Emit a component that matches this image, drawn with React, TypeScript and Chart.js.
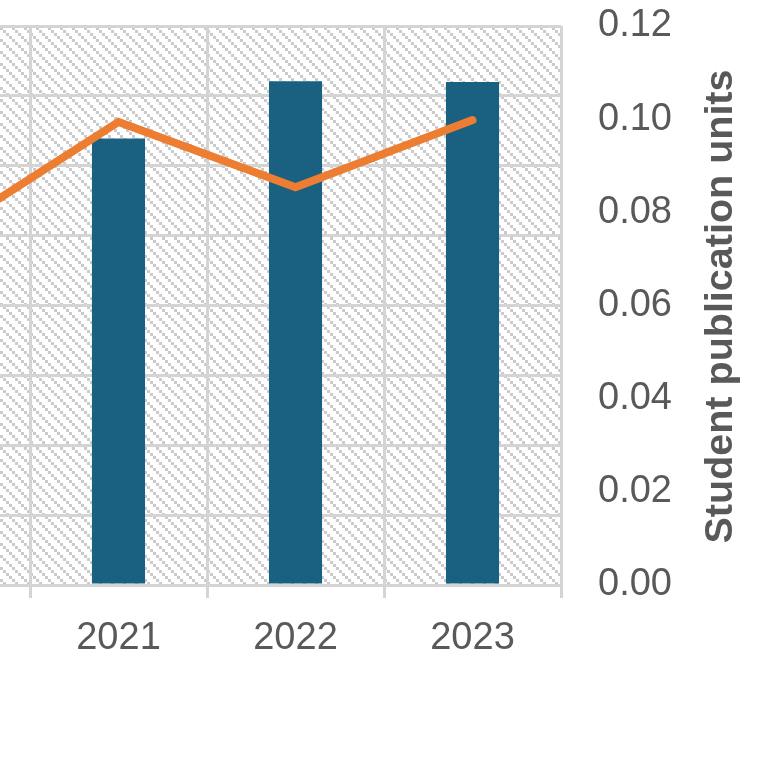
import { useEffect, useRef } from 'react';
import { Chart, registerables } from 'chart.js';

Chart.register(...registerables);

// ---- data ----
const categories = ['2020', '2021', '2022', '2023'];
const barLabel = 'Publications';
const barValues = [6.0, 6.39, 7.21, 7.2];
const lineLabel = 'Student publication units';
const lineValues = [0.075, 0.0994, 0.0854, 0.0998];
const leftAxisMin = 0;
const leftAxisMax = 8;
const leftAxisStep = 1;
const rightAxisMin = 0;
const rightAxisMax = 0.12;
const rightAxisStep = 0.02;
const rightAxisTitle = 'Student publication units';

// ---- styling ----
const OFFSET = 147;
const CANVAS_W = 916;
const CANVAS_H = 758;
const FONT = '"Liberation Sans", Arial, Helvetica, sans-serif';
const TEXT = '#595959';
const GRID = '#d4d4d4';
const BAR = '#1a6080';
const LINE = '#ed7d31';

function makePattern(ctx: CanvasRenderingContext2D) {
  const c = document.createElement('canvas');
  const n = 12;
  c.width = n;
  c.height = n;
  const p = c.getContext('2d')!;
  p.fillStyle = '#ffffff';
  p.fillRect(0, 0, n, n);
  p.fillStyle = '#cbcbcb';
  for (let i = 0; i < n; i += 3) {
    p.fillRect(i, i, 3, 3);
  }
  return ctx.createPattern(c, 'repeat');
}

const hatchPlugin = {
  id: 'hatch',
  beforeDraw(chart: any) {
    const { ctx, chartArea } = chart;
    if (!chartArea) return;
    const pat = makePattern(ctx);
    ctx.save();
    ctx.fillStyle = pat;
    ctx.fillRect(chartArea.left, chartArea.top, chartArea.right - chartArea.left, chartArea.bottom - chartArea.top);
    ctx.restore();
  },
};

const rightTitlePlugin = {
  id: 'rightTitle',
  afterDraw(chart: any) {
    const { ctx, chartArea } = chart;
    ctx.save();
    ctx.translate(chartArea.right + 160, (chartArea.top + chartArea.bottom) / 2 + 1);
    ctx.rotate(-Math.PI / 2);
    ctx.font = `bold 39.5px ${FONT}`;
    ctx.fillStyle = TEXT;
    ctx.textAlign = 'center';
    ctx.textBaseline = 'middle';
    ctx.fillText(rightAxisTitle, 0, 0);
    ctx.restore();
  },
};

const noPad = (s: any) => {
  s.paddingTop = 0;
  s.paddingBottom = 0;
  s.paddingLeft = 0;
  s.paddingRight = 0;
};

export default function App() {
  const ref = useRef<HTMLCanvasElement>(null);

  useEffect(() => {
    if (!ref.current) return;
    const chart = new Chart(ref.current, {
      type: 'bar',
      data: {
        labels: categories,
        datasets: [
          {
            type: 'line',
            label: lineLabel,
            data: lineValues,
            yAxisID: 'y1',
            borderColor: LINE,
            backgroundColor: LINE,
            borderWidth: 8,
            borderCapStyle: 'round',
            borderJoinStyle: 'miter',
            pointRadius: 0,
            tension: 0,
            order: 0,
          } as any,
          {
            type: 'bar',
            label: barLabel,
            data: barValues,
            yAxisID: 'y',
            backgroundColor: BAR,
            borderWidth: 0,
            barPercentage: 0.3,
            categoryPercentage: 1,
            order: 1,
          },
        ],
      },
      options: {
        responsive: false,
        devicePixelRatio: 1,
        animation: false,
        layout: { padding: { top: 26, left: 0, right: 0, bottom: 0 } },
        plugins: {
          legend: { display: false },
          tooltip: { enabled: false },
        },
        scales: {
          x: {
            offset: true,
            grid: { offset: true, color: GRID, lineWidth: 3, tickLength: 13, drawTicks: true },
            border: { display: false },
            ticks: { font: { family: FONT, size: 38 }, color: TEXT, padding: 18 },
            afterFit: (s: any) => {
              s.height = 173;
              noPad(s);
            },
          },
          y: {
            position: 'left',
            min: leftAxisMin,
            max: leftAxisMax,
            ticks: { stepSize: leftAxisStep, display: false },
            grid: { color: GRID, lineWidth: 3, drawTicks: false },
            border: { display: false },
            afterFit: (s: any) => {
              s.width = 0;
              noPad(s);
            },
          },
          y1: {
            position: 'right',
            min: rightAxisMin,
            max: rightAxisMax,
            ticks: {
              stepSize: rightAxisStep,
              font: { family: FONT, size: 38 },
              color: TEXT,
              padding: 37,
              callback: (v: any) => Number(v).toFixed(2),
            },
            grid: { display: false, drawTicks: false },
            border: { display: false },
            afterFit: (s: any) => {
              s.width = 208;
              noPad(s);
            },
          },
        },
      } as any,
      plugins: [hatchPlugin, rightTitlePlugin],
    });
    return () => chart.destroy();
  }, []);

  return (
    <div style={{ position: 'absolute', left: -OFFSET, top: 0, width: CANVAS_W, height: CANVAS_H, overflow: 'hidden' }}>
      <canvas ref={ref} width={CANVAS_W} height={CANVAS_H} style={{ display: 'block', width: CANVAS_W, height: CANVAS_H }} />
    </div>
  );
}
